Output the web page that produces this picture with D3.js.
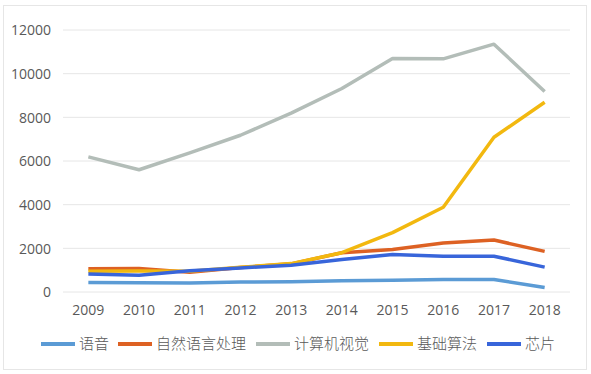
<!DOCTYPE html>
<html>
<head>
<meta charset="utf-8">
<script src="https://cdn.jsdelivr.net/npm/d3@7"></script>
<style>
  body { margin: 0; background: #fff; }
  svg text { font-family: "Open Sans", "Noto Sans CJK SC", sans-serif; fill: #595959; }
</style>
</head>
<body>
<svg id="chart" width="591" height="374"></svg>
<script>
const years = [2009, 2010, 2011, 2012, 2013, 2014, 2015, 2016, 2017, 2018];
const yTicks = [0, 2000, 4000, 6000, 8000, 10000, 12000];

const speech = [440, 420, 410, 460, 470, 520, 535, 570, 570, 210];
const nlp = [1060, 1080, 900, 1120, 1290, 1800, 1950, 2240, 2380, 1860];
const vision = [6190, 5600, 6370, 7180, 8190, 9320, 10700, 10680, 11350, 9180];
const algorithm = [950, 960, 950, 1130, 1300, 1800, 2720, 3880, 7090, 8690];
const chip = [830, 770, 970, 1100, 1230, 1490, 1720, 1640, 1640, 1140];

const seriesNames = ['语音', '自然语言处理', '计算机视觉', '基础算法', '芯片'];
const seriesValues = [speech, nlp, vision, algorithm, chip];
const colors = ['#5B9BD5', '#DD6123', '#B3BDB8', '#F2B80F', '#3865DA'];

const svg = d3.select('#chart');

// outer frame
svg.append('rect')
    .attr('x', 3.5).attr('y', 5.5)
    .attr('width', 583).attr('height', 364)
    .attr('fill', '#fff')
    .attr('stroke', '#e6e6e6');

const x = d3.scaleBand()
    .domain(years)
    .range([63, 570]);

const y = d3.scaleLinear()
    .domain([0, 12000])
    .range([292, 30]);

// grid
svg.append('g')
    .selectAll('line')
    .data(yTicks)
    .join('line')
    .attr('x1', 63).attr('x2', 570)
    .attr('y1', d => y(d)).attr('y2', d => y(d))
    .attr('stroke', '#e6e6e6')
    .attr('stroke-width', 1);

const yAxis = svg.append('g')
    .attr('transform', 'translate(51,0)')
    .call(d3.axisLeft(y).tickValues(yTicks).tickFormat(d3.format('d')).tickSize(0).tickPadding(0));
yAxis.select('.domain').remove();
yAxis.selectAll('text').style('font-size', '14px').attr('dy', '0.35em');

const xAxis = svg.append('g')
    .attr('transform', 'translate(0,304)')
    .call(d3.axisBottom(x).tickSize(0).tickPadding(0));
xAxis.select('.domain').remove();
xAxis.selectAll('text').style('font-size', '14px').attr('dy', '0.75em');

const line = d3.line()
    .x((d, i) => x(years[i]) + x.bandwidth() / 2)
    .y(d => y(d));

// draw in the order that gives the same overlap as the reference
const drawOrder = [0, 2, 1, 3, 4];
svg.append('g')
    .selectAll('path')
    .data(drawOrder)
    .join('path')
    .attr('d', i => line(seriesValues[i]))
    .attr('fill', 'none')
    .attr('stroke', i => colors[i])
    .attr('stroke-width', 3.5)
    .attr('stroke-linejoin', 'round');

// legend
const legendX = [41, 118, 256, 379, 487];
const legend = svg.append('g')
    .selectAll('g')
    .data(seriesNames)
    .join('g')
    .attr('transform', (d, i) => `translate(${legendX[i]},344)`);

legend.append('line')
    .attr('x1', 0).attr('x2', 34)
    .attr('stroke', (d, i) => colors[i])
    .attr('stroke-width', 4);

legend.append('text')
    .attr('x', 38)
    .attr('dy', '0.36em')
    .style('font-size', '15px')
    .style('font-family', '"Noto Sans CJK SC", sans-serif')
    .style('font-weight', 300)
    .text(d => d);
</script>
</body>
</html>
